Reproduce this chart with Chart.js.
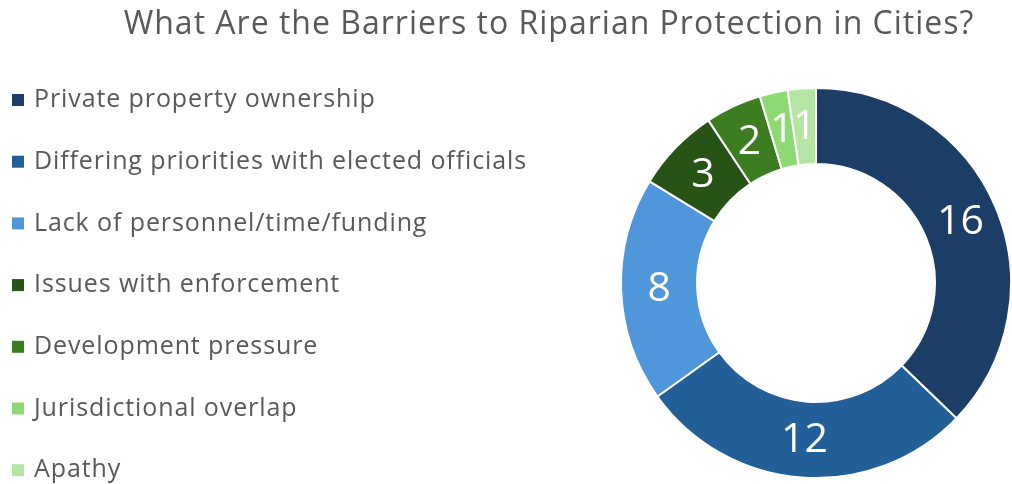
<!DOCTYPE html>
<html>
<head>
<meta charset="utf-8">
<script src="https://cdn.jsdelivr.net/npm/chart.js@4"></script>
<style>
  html, body { margin: 0; padding: 0; background: #fff; }
  #wrap { width: 1012px; height: 484px; position: relative; }
</style>
</head>
<body>
<div id="wrap"><canvas id="myChart"></canvas></div>
<script>
// chart data
const chartTitle = "What Are the Barriers to Riparian Protection in Cities?";
const categories = [
  "Private property ownership",
  "Differing priorities with elected officials",
  "Lack of personnel/time/funding",
  "Issues with enforcement",
  "Development pressure",
  "Jurisdictional overlap",
  "Apathy"
];
const counts = [16, 12, 8, 3, 2, 1, 1];
const sliceColors = ["#1b3d66", "#225f99", "#4f96da", "#275317", "#3c7d22", "#8ed973", "#b4e5a2"];

const FONT = "'Open Sans', sans-serif";

// title + legend on the left, drawn by hand so they sit where the original has them
const sideText = {
  id: "sideText",
  afterDraw(chart) {
    const ctx = chart.ctx;
    ctx.save();
    ctx.fillStyle = "#595959";
    ctx.font = "32px " + FONT;
    ctx.letterSpacing = "1px";
    ctx.textAlign = "center";
    ctx.textBaseline = "middle";
    ctx.fillText(chartTitle, 549, 25);

    ctx.font = "25px " + FONT;
    ctx.letterSpacing = "0.9px";
    ctx.textAlign = "left";
    categories.forEach((label, i) => {
      const y = 100 + i * 61.7;
      ctx.fillStyle = sliceColors[i];
      ctx.fillRect(12, y - 6, 12, 12);
      ctx.fillStyle = "#595959";
      ctx.fillText(label, 34, y);
    });
    ctx.restore();
  }
};

// white value labels in the middle of each slice
const sliceLabels = {
  id: "sliceLabels",
  afterDatasetsDraw(chart) {
    const ctx = chart.ctx;
    const meta = chart.getDatasetMeta(0);
    ctx.save();
    ctx.fillStyle = "#ffffff";
    ctx.font = "41px " + FONT;
    ctx.textAlign = "center";
    ctx.textBaseline = "middle";
    meta.data.forEach((arc, i) => {
      const p = arc.tooltipPosition();
      ctx.fillText(String(counts[i]), p.x, p.y + 1);
    });
    ctx.restore();
  }
};

new Chart(document.getElementById("myChart"), {
  type: "doughnut",
  data: {
    labels: categories,
    datasets: [{
      data: counts,
      backgroundColor: sliceColors,
      borderColor: "#ffffff",
      borderWidth: 2,
      hoverOffset: 0,
      hoverBorderWidth: 2
    }]
  },
  options: {
    responsive: true,
    maintainAspectRatio: false,
    animation: false,
    cutout: "61%",
    layout: { padding: { left: 620, right: 0, top: 87, bottom: 5 } },
    plugins: {
      legend: { display: false },
      title: { display: false },
      tooltip: { enabled: false }
    }
  },
  plugins: [sideText, sliceLabels]
});
</script>
</body>
</html>
